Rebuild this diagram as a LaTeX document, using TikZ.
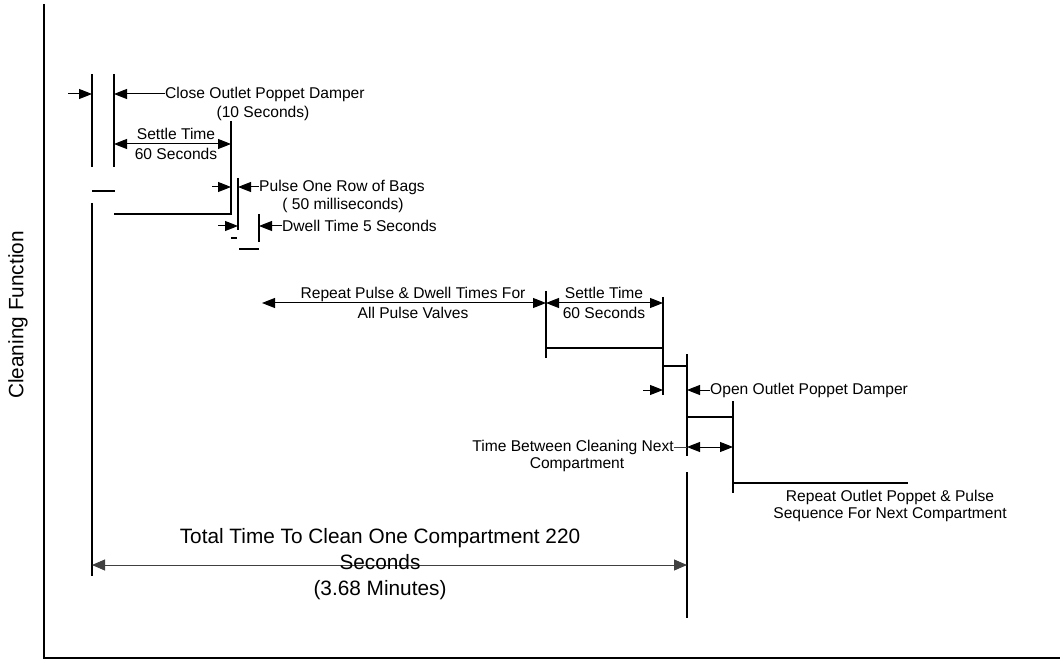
\documentclass[tikz,border=0pt]{standalone}
\usepackage{fontspec}
\setmainfont{Liberation Sans}
\usetikzlibrary{arrows.meta}
\begin{document}
\begin{tikzpicture}[x=1pt,y=-1pt,
  ln/.style={line width=1.1pt},
  axisln/.style={line width=2pt},
  arr/.style={line width=1pt,-{Triangle[length=13pt,width=10pt]}},
  darr/.style={line width=1pt,{Triangle[length=13pt,width=10pt]}-{Triangle[length=13pt,width=10pt]}},
  garr/.style={line width=0.9pt,black!75,{Triangle[length=13pt,width=11pt]}-{Triangle[length=13pt,width=11pt]}},
  sm/.style={inner sep=0pt,font=\fontsize{15.6}{18.5}\selectfont},
  smc/.style={sm,align=center},
  lg/.style={inner sep=0pt,align=center,font=\fontsize{20.8}{26}\selectfont}]
\useasboundingbox (0,0) rectangle (1060,660);
% axes
\coordinate (axtop) at (44,4);
\coordinate (axcorner) at (44,658);
\coordinate (axright) at (1060,658);
\draw[axisln] (axtop) -- (axcorner) -- (axright);
\node[lg,rotate=90] (ylab) at (18,315) {Cleaning Function};

% first phase: close outlet poppet damper
\coordinate (v1t) at (92,74); \coordinate (v1b) at (92,167);
\coordinate (v2t) at (114,74); \coordinate (v2b) at (114,167);
\draw[ln] (v1t) -- (v1b);
\draw[ln] (v2t) -- (v2b);
\coordinate (a1s) at (68,94);
\draw[arr] (a1s) -- (a1s -| v1t);
\node[sm,anchor=west] (close) at (165,94) {Close Outlet Poppet Damper};
\node[sm] (close2) at (263,113) {(10 Seconds)};
\draw[arr] (close.west) -- (close.west -| v2t);

% settle time 1
\coordinate (v3t) at (231,121); \coordinate (v3b) at (231,215);
\draw[ln] (v3t) -- (v3b);
\coordinate (st1l) at (114,144);
\draw[darr] (st1l) -- (st1l -| v3t);
\node[smc] (st1) at (176,144) {Settle Time\\[1pt]60 Seconds};

% levels
\coordinate (h1l) at (92,191); \coordinate (h1r) at (115,191);
\draw[ln] (h1l) -- (h1r);
\coordinate (v4t) at (92,203); \coordinate (v4b) at (92,576);
\draw[ln] (v4t) -- (v4b);
\coordinate (h2l) at (114,214); \coordinate (h2r) at (232,214);
\draw[ln] (h2l) -- (h2r);

% pulse one row
\coordinate (v5t) at (238,178); \coordinate (v5b) at (238,230);
\draw[ln] (v5t) -- (v5b);
\coordinate (a3s) at (212,187);
\draw[arr] (a3s) -- (a3s -| v3t);
\node[sm,anchor=west] (pulse) at (259,187) {Pulse One Row of Bags};
\node[sm] (pulse2) at (343,205) {( 50 milliseconds)};
\draw[arr] (pulse.west) -- (pulse.west -| v5t);

% dwell
\coordinate (a5s) at (218,226);
\draw[arr] (a5s) -- (a5s -| v5t);
\coordinate (dl) at (231,238); \coordinate (dr) at (237,238);
\draw[line width=2.2pt] (dl) -- (dr);
\coordinate (v6t) at (259,214); \coordinate (v6b) at (259,242);
\draw[ln] (v6t) -- (v6b);
\node[sm,anchor=west] (dwell) at (282,226) {Dwell Time 5 Seconds};
\draw[arr] (dwell.west) -- (dwell.west -| v6t);
\coordinate (h3l) at (239,249); \coordinate (h3r) at (259,249);
\draw[ln] (h3l) -- (h3r);

% repeat pulse and settle time 2
\coordinate (v7t) at (546,291); \coordinate (v7b) at (546,358);
\draw[ln] (v7t) -- (v7b);
\coordinate (v8t) at (663,297); \coordinate (v8b) at (663,395);
\draw[ln] (v8t) -- (v8b);
\coordinate (rpl) at (262,303);
\draw[darr] (rpl) -- (rpl -| v7t);
\node[smc] (rep) at (413,303) {Repeat Pulse \& Dwell Times For\\[1pt]All Pulse Valves};
\coordinate (st2l) at (546,303);
\draw[darr] (st2l) -- (st2l -| v8t);
\node[smc] (st2) at (604,303) {Settle Time\\[1pt]60 Seconds};
\coordinate (h4l) at (546,348); \coordinate (h4r) at (663,348);
\draw[ln] (h4l) -- (h4r);

% open outlet poppet damper
\coordinate (h5l) at (663,366); \coordinate (h5r) at (687,366);
\draw[ln] (h5l) -- (h5r);
\coordinate (v9t) at (687,354); \coordinate (v9b) at (687,456);
\draw[ln] (v9t) -- (v9b);
\coordinate (v10t) at (687,472); \coordinate (v10b) at (687,618);
\draw[ln] (v10t) -- (v10b);
\coordinate (a7s) at (643,390);
\draw[arr] (a7s) -- (a7s -| v8t);
\node[sm,anchor=west] (open) at (710,390) {Open Outlet Poppet Damper};
\draw[arr] (open.west) -- (open.west -| v9t);

% time between cleaning
\coordinate (h6l) at (687,417); \coordinate (h6r) at (733,417);
\draw[ln] (h6l) -- (h6r);
\coordinate (v11t) at (733,401); \coordinate (v11b) at (733,493);
\draw[ln] (v11t) -- (v11b);
\node[sm,anchor=east] (tbc) at (674,447) {Time Between Cleaning Next};
\node[sm] (tbc2) at (577,465) {Compartment};
\coordinate (tbl) at (687,447);
\draw[line width=0.9pt,black!75] (tbc.east) -- (tbl);
\draw[darr] (tbl) -- (tbl -| v11t);

% next compartment
\coordinate (h7l) at (733,483); \coordinate (h7r) at (908,483);
\draw[ln] (h7l) -- (h7r);
\node[smc,font=\fontsize{15.6}{16.8}\selectfont] (next) at (890,506) {Repeat Outlet Poppet \& Pulse\\Sequence For Next Compartment};

% total time
\coordinate (ttl) at (92,565);
\draw[garr] (ttl) -- (ttl -| v10t);
\node[lg] (total) at (380,564) {Total Time To Clean One Compartment 220\\Seconds\\(3.68 Minutes)};
\end{tikzpicture}
\end{document}
